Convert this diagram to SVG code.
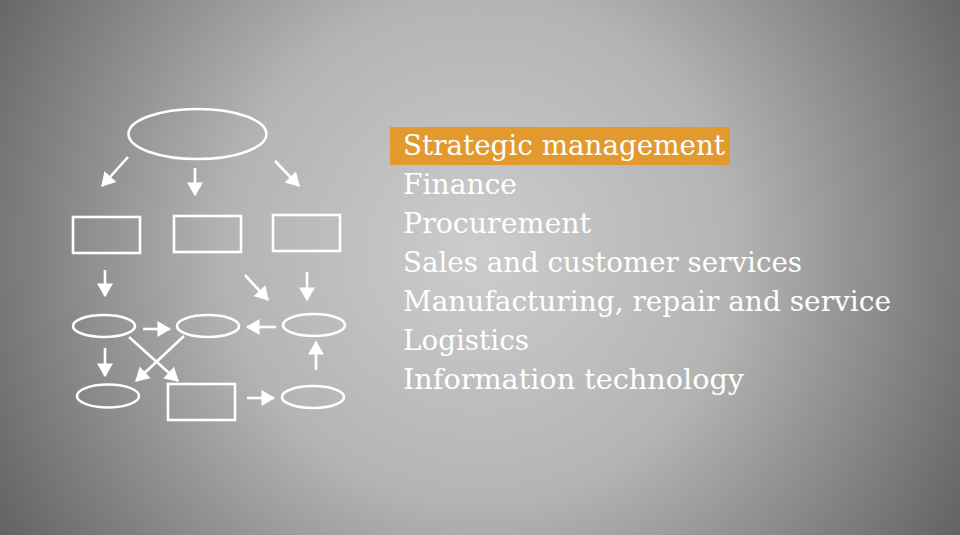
<svg xmlns="http://www.w3.org/2000/svg" width="960" height="535" viewBox="0 0 960 535">
<defs>
<radialGradient id="bg" cx="480" cy="250" r="560" gradientUnits="userSpaceOnUse">
<stop offset="0" stop-color="#cccccc"/>
<stop offset="0.45" stop-color="#b4b4b4"/>
<stop offset="1" stop-color="#626262"/>
</radialGradient>
<marker id="ah" markerUnits="userSpaceOnUse" markerWidth="16" markerHeight="16" viewBox="0 0 12 14" refX="11" refY="7" orient="auto">
<path d="M0,0 L12,7 L0,14 Z" fill="#fff"/>
</marker>
<style>
.s{fill:none;stroke:#fff;stroke-width:2.6}
.c{stroke:#fff;stroke-width:2.6;fill:none;marker-end:url(#ah)}
.t{font-family:"DejaVu Serif","Liberation Serif",serif;font-size:28px;fill:#fff}
</style>
</defs>
<rect width="960" height="535" fill="url(#bg)"/>
<g id="top"><ellipse class="s" cx="197.5" cy="134" rx="69" ry="25"/></g>
<g id="r1"><rect class="s" x="73" y="217" width="67" height="36"/></g>
<g id="r2"><rect class="s" x="174" y="216" width="67" height="36"/></g>
<g id="r3"><rect class="s" x="273" y="215" width="67" height="36"/></g>
<g id="eA"><ellipse class="s" cx="104" cy="326" rx="31" ry="11"/></g>
<g id="eB"><ellipse class="s" cx="208" cy="326" rx="31" ry="11"/></g>
<g id="eC"><ellipse class="s" cx="314" cy="325" rx="31" ry="11"/></g>
<g id="eD"><ellipse class="s" cx="108" cy="396" rx="31" ry="11.5"/></g>
<g id="rE"><rect class="s" x="168" y="384" width="67" height="36"/></g>
<g id="eF"><ellipse class="s" cx="313" cy="397" rx="31" ry="11"/></g>
<g id="connectors">
<line class="c" x1="128" y1="157" x2="102" y2="186"/>
<line class="c" x1="195" y1="168" x2="195" y2="195"/>
<line class="c" x1="275" y1="161" x2="299" y2="186"/>
<line class="c" x1="105" y1="270" x2="105" y2="296"/>
<line class="c" x1="245" y1="275" x2="268" y2="300"/>
<line class="c" x1="307" y1="272" x2="307" y2="300"/>
<line class="c" x1="143" y1="329" x2="170" y2="329"/>
<line class="c" x1="276" y1="327" x2="247" y2="327"/>
<line class="c" x1="105" y1="348" x2="105" y2="376"/>
<line class="c" x1="129" y1="337" x2="178" y2="381"/>
<line class="c" x1="184" y1="336" x2="136" y2="381"/>
<line class="c" x1="247" y1="398" x2="274" y2="398"/>
<line class="c" x1="316" y1="370" x2="316" y2="342"/>
</g>
<g id="list">
<rect x="390" y="127" width="340" height="38" fill="#e29a2e"/>
<text class="t" x="403" y="155" textLength="322" lengthAdjust="spacingAndGlyphs">Strategic management</text>
<text class="t" x="403" y="194" textLength="114" lengthAdjust="spacingAndGlyphs">Finance</text>
<text class="t" x="403" y="233" textLength="188" lengthAdjust="spacingAndGlyphs">Procurement</text>
<text class="t" x="403" y="272" textLength="399" lengthAdjust="spacingAndGlyphs">Sales and customer services</text>
<text class="t" x="403" y="311" textLength="488" lengthAdjust="spacingAndGlyphs">Manufacturing, repair and service</text>
<text class="t" x="403" y="350" textLength="126" lengthAdjust="spacingAndGlyphs">Logistics</text>
<text class="t" x="403" y="389" textLength="341" lengthAdjust="spacingAndGlyphs">Information technology</text>
</g>
</svg>
